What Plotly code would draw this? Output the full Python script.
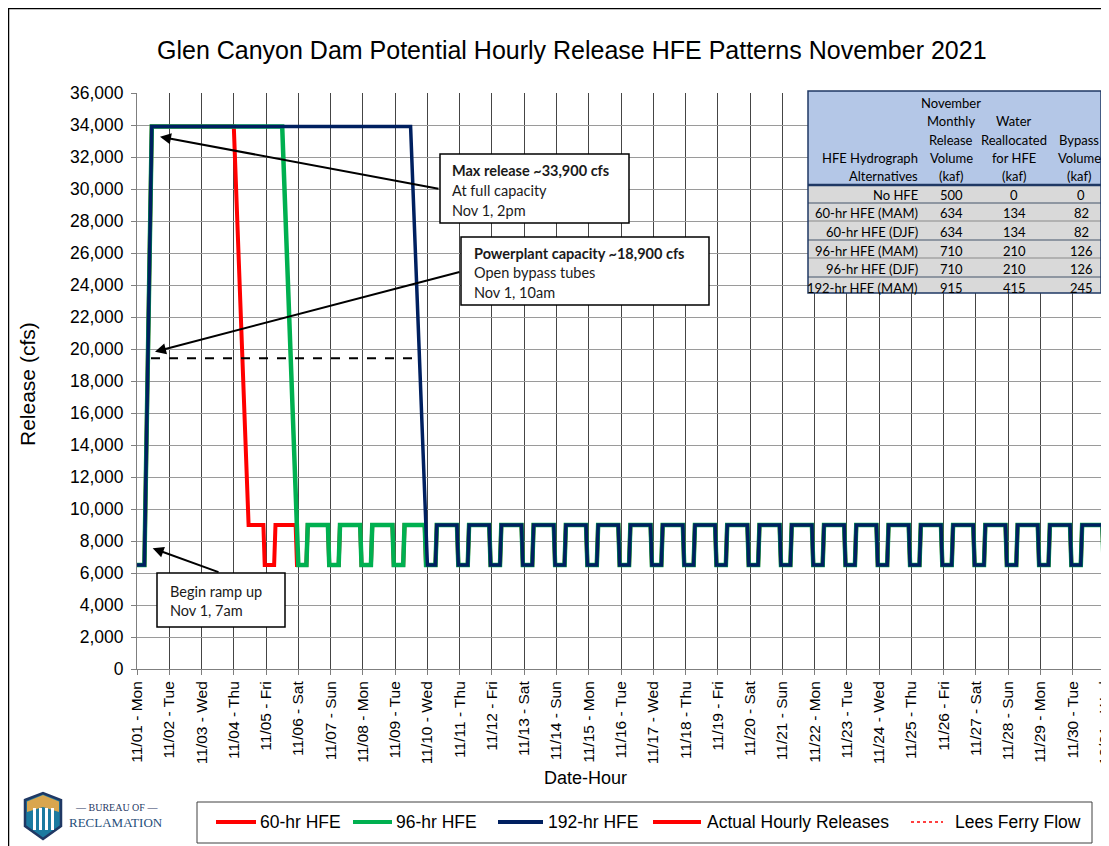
import plotly.graph_objects as go

# ---------------- data ----------------
DAY_LABELS = ["11/01 - Mon", "11/02 - Tue", "11/03 - Wed", "11/04 - Thu", "11/05 - Fri",
              "11/06 - Sat", "11/07 - Sun", "11/08 - Mon", "11/09 - Tue", "11/10 - Wed",
              "11/11 - Thu", "11/12 - Fri", "11/13 - Sat", "11/14 - Sun", "11/15 - Mon",
              "11/16 - Tue", "11/17 - Wed", "11/18 - Thu", "11/19 - Fri", "11/20 - Sat",
              "11/21 - Sun", "11/22 - Mon", "11/23 - Tue", "11/24 - Wed", "11/25 - Thu",
              "11/26 - Fri", "11/27 - Sat", "11/28 - Sun", "11/29 - Mon", "11/30 - Tue",
              "12/01 - Wed"]
DAY_TICK_HOURS = [0, 24, 48, 72, 96, 120, 144, 168, 192, 216, 240, 264, 288, 312, 336,
                  360, 384, 408, 432, 456, 480, 504, 528, 552, 576, 600, 624, 648, 672,
                  696, 720]

# normal daily fluctuation (hour of day, cfs) repeated after each HFE
DAY_HOURS = [6, 7, 22, 23]
DAY_CFS = [6500, 9000, 9000, 6500]
END_HOUR = 720
END_CFS = 6500

# HFE parts (hours since Nov 1 00:00, cfs)
HFE60_HOURS = [0, 5.5, 11, 72, 83, 94, 95]
HFE60_CFS = [6500, 6500, 33900, 33900, 9000, 9000, 6500]
HFE60_NORMAL_FROM_DAY = 4

HFE96_HOURS = [0, 5.5, 11, 108, 120]
HFE96_CFS = [6500, 6500, 33900, 33900, 6500]
HFE96_NORMAL_FROM_DAY = 5

HFE192_HOURS = [0, 5.5, 11, 203.5, 216]
HFE192_CFS = [6500, 6500, 33900, 33900, 6500]
HFE192_NORMAL_FROM_DAY = 9

Y_TICKS = list(range(0, 36001, 2000))

LEGEND_NAMES = ["60-hr HFE", "96-hr HFE", "192-hr HFE", "Actual Hourly Releases", "Lees Ferry Flow"]

TABLE_HEADER_C1 = ["", "", "", "HFE Hydrograph", "Alternatives"]
TABLE_HEADER_C2 = ["November", "Monthly", "Release", "Volume", "(kaf)"]
TABLE_HEADER_C3 = ["", "Water", "Reallocated", "for HFE", "(kaf)"]
TABLE_HEADER_C4 = ["", "", "Bypass", "Volume", "(kaf)"]
TABLE_ALTS = ["No HFE", "60-hr HFE (MAM)", "60-hr HFE (DJF)", "96-hr HFE (MAM)",
              "96-hr HFE (DJF)", "192-hr HFE (MAM)"]
TABLE_VOLUME = [500, 634, 634, 710, 710, 915]
TABLE_REALLOC = [0, 134, 134, 210, 210, 415]
TABLE_BYPASS = [0, 82, 82, 126, 126, 245]


def build(hfe_h, hfe_v, start_day):
    xs, ys = list(hfe_h), list(hfe_v)
    for d in range(start_day, 30):
        for h, v in zip(DAY_HOURS, DAY_CFS):
            xs.append(d * 24 + h)
            ys.append(v)
    xs.append(END_HOUR)
    ys.append(END_CFS)
    return xs, ys


# ---------------- layout helpers (screen pixel -> paper) ----------------
OFF = 8                     # page body margin of the html page
W, H = 1109 - OFF, 846 - OFF
PL, PR, PT, PB = 137, 1105, 93, 669   # plot area in screen pixels


def px(x):
    return (x - PL) / (PR - PL)


def py(y):
    return (PB - y) / (PB - PT)


RED = "#ff0000"
GREEN = "#00b050"
NAVY = "#002060"
AX_FONT = "Liberation Sans, Arial, sans-serif"
BOX_FONT = "Lato, Carlito, Calibri, sans-serif"

fig = go.Figure()

x60, y60 = build(HFE60_HOURS, HFE60_CFS, HFE60_NORMAL_FROM_DAY)
x96, y96 = build(HFE96_HOURS, HFE96_CFS, HFE96_NORMAL_FROM_DAY)
x192, y192 = build(HFE192_HOURS, HFE192_CFS, HFE192_NORMAL_FROM_DAY)

fig.add_trace(go.Scatter(x=x60, y=y60, mode="lines", name=LEGEND_NAMES[0],
                         line=dict(color=RED, width=4)))
fig.add_trace(go.Scatter(x=x96, y=y96, mode="lines", name=LEGEND_NAMES[1],
                         line=dict(color=GREEN, width=4.5)))
fig.add_trace(go.Scatter(x=x192, y=y192, mode="lines", name=LEGEND_NAMES[2],
                         line=dict(color=NAVY, width=3.5)))

shapes = []
annotations = []

# outer chart frame
shapes.append(dict(type="rect", xref="paper", yref="paper", x0=px(8.5), x1=px(1130),
                   y0=py(8.5), y1=py(880), line=dict(color="black", width=1.5),
                   fillcolor="rgba(0,0,0,0)", layer="below"))

# title
annotations.append(dict(text="Glen Canyon Dam Potential Hourly Release HFE Patterns November 2021",
                        xref="paper", yref="paper", x=px(571.5), y=py(50), showarrow=False,
                        xanchor="center", yanchor="middle",
                        font=dict(family=AX_FONT, size=25, color="black")))
# axis titles
annotations.append(dict(text="Release (cfs)", xref="paper", yref="paper", x=px(28), y=py(384),
                        showarrow=False, textangle=-90, xanchor="center", yanchor="middle",
                        font=dict(family=AX_FONT, size=21, color="black")))
annotations.append(dict(text="Date-Hour", xref="paper", yref="paper", x=px(585), y=py(778),
                        showarrow=False, xanchor="center", yanchor="middle",
                        font=dict(family=AX_FONT, size=18, color="black")))

# dashed powerplant capacity line (drawn shape)
shapes.append(dict(type="line", xref="paper", yref="paper", x0=px(151), x1=px(414),
                   y0=py(358.3), y1=py(358.3), line=dict(color="black", width=2, dash="dash"),
                   layer="above"))


def box(x0, y0, x1, y1, lines, tx, ty0, dy, fs):
    shapes.append(dict(type="rect", xref="paper", yref="paper", x0=px(x0), x1=px(x1),
                       y0=py(y1), y1=py(y0), line=dict(color="black", width=1.5),
                       fillcolor="white", layer="above"))
    for i, t in enumerate(lines):
        annotations.append(dict(text=t, xref="paper", yref="paper", x=px(tx), y=py(ty0 + i * dy),
                                showarrow=False, xanchor="left", yanchor="middle",
                                font=dict(family=BOX_FONT, size=fs, color="#1a1a1a")))


def arrow(hx, hy, tx, ty):
    annotations.append(dict(text="", xref="paper", yref="paper", x=px(hx), y=py(hy),
                            ax=tx - hx, ay=ty - hy, showarrow=True, arrowhead=2,
                            arrowsize=1.1, arrowwidth=2, arrowcolor="black",
                            standoff=0, startstandoff=0))


box(440, 154, 629, 223, ["<b>Max release ~33,900 cfs</b>", "At full capacity", "Nov 1, 2pm"],
    450, 171, 19.5, 14.5)
box(461, 237, 709, 305, ["<b>Powerplant capacity ~18,900 cfs</b>", "Open bypass tubes", "Nov 1, 10am"],
    472, 253, 19.5, 14.5)
box(157, 573, 285, 627, ["Begin ramp up", "Nov 1, 7am"], 168, 591, 19.5, 14.5)

arrow(160, 136.7, 440, 189)
arrow(155, 351.7, 461, 271.7)
arrow(152.7, 548.3, 220, 572.7)

# ---------------- table ----------------
TX0, TX1 = 808, 1101
shapes.append(dict(type="rect", xref="paper", yref="paper", x0=px(TX0), x1=px(TX1),
                   y0=py(185), y1=py(91), line=dict(width=0), fillcolor="#b4c7e7", layer="above"))
shapes.append(dict(type="rect", xref="paper", yref="paper", x0=px(TX0), x1=px(TX1),
                   y0=py(293), y1=py(185), line=dict(width=0), fillcolor="#d9d9d9", layer="above"))
ROW_LINES = [203, 221, 240, 258, 277]
ROW_LINE_COL = ["#44546a", "#8a8a8a", "#44546a", "#8a8a8a", "#44546a"]
for yl, c in zip(ROW_LINES, ROW_LINE_COL):
    shapes.append(dict(type="line", xref="paper", yref="paper", x0=px(TX0), x1=px(TX1),
                       y0=py(yl), y1=py(yl), line=dict(color=c, width=1.2), layer="above"))
shapes.append(dict(type="line", xref="paper", yref="paper", x0=px(TX0), x1=px(TX1),
                   y0=py(185), y1=py(185), line=dict(color="#1f3864", width=2.5), layer="above"))
shapes.append(dict(type="rect", xref="paper", yref="paper", x0=px(TX0), x1=px(TX1),
                   y0=py(293), y1=py(91), line=dict(color="#1f3864", width=1.5),
                   fillcolor="rgba(0,0,0,0)", layer="above"))

HDR_Y = [103, 121.3, 139.7, 158, 176.3]
ROW_Y = [195.5, 213.5, 232, 250.5, 269, 287.5]
TFS = 13


def tcell(t, x, y, anchor):
    if t == "":
        return
    annotations.append(dict(text=str(t), xref="paper", yref="paper", x=px(x), y=py(y),
                            showarrow=False, xanchor=anchor, yanchor="middle",
                            font=dict(family=BOX_FONT, size=TFS, color="black")))


for i, yy in enumerate(HDR_Y):
    tcell(TABLE_HEADER_C1[i], 920, yy, "right")
    tcell(TABLE_HEADER_C2[i], 951, yy, "center")
    tcell(TABLE_HEADER_C3[i], 1014, yy, "center")
    tcell(TABLE_HEADER_C4[i], 1079, yy, "center")
for i, yy in enumerate(ROW_Y):
    tcell(TABLE_ALTS[i], 920, yy, "right")
    tcell(TABLE_VOLUME[i], 951, yy, "center")
    tcell(TABLE_REALLOC[i], 1014, yy, "center")
    tcell(TABLE_BYPASS[i], 1081, yy, "center")

# ---------------- legend (drawn) ----------------
shapes.append(dict(type="rect", xref="paper", yref="paper", x0=px(197), x1=px(1092),
                   y0=py(843), y1=py(802), line=dict(color="#404040", width=1),
                   fillcolor="white", layer="below"))
LEG_LINE_X = [(216, 256), (353, 392), (498, 543), (653, 701), (911, 943)]
LEG_TEXT_X = [258, 394, 546, 705, 953]
LEG_STYLE = [dict(color=RED, width=4), dict(color=GREEN, width=4), dict(color=NAVY, width=4),
             dict(color=RED, width=4), dict(color=RED, width=1.5, dash="dot")]
LEG_Y = 822
for (lx0, lx1), tx, st, name in zip(LEG_LINE_X, LEG_TEXT_X, LEG_STYLE, LEGEND_NAMES):
    shapes.append(dict(type="line", xref="paper", yref="paper", x0=px(lx0), x1=px(lx1),
                       y0=py(LEG_Y), y1=py(LEG_Y), line=st, layer="above"))
    annotations.append(dict(text=name, xref="paper", yref="paper", x=px(tx), y=py(LEG_Y),
                            showarrow=False, xanchor="left", yanchor="middle",
                            font=dict(family=AX_FONT, size=17.5, color="black")))

# ---------------- logo ----------------
shield = "M {} {} L {} {} L {} {} L {} {} L {} {} L {} {} Z".format(
    px(25), py(800), px(43), py(793), px(61), py(800), px(61), py(826), px(43), py(839), px(25), py(826))
shapes.append(dict(type="path", xref="paper", yref="paper", path=shield,
                   fillcolor="#1b7aa0", line=dict(color="#1f3864", width=2.5), layer="above"))
gold = "M {} {} L {} {} L {} {} L {} {} L {} {} L {} {} Z".format(
    px(27), py(801.5), px(43), py(795), px(59), py(801.5), px(59), py(812), px(43), py(807), px(27), py(812))
shapes.append(dict(type="path", xref="paper", yref="paper", path=gold,
                   fillcolor="#d9a64e", line=dict(width=0), layer="above"))
for bx in [33, 39, 45, 51]:
    shapes.append(dict(type="rect", xref="paper", yref="paper", x0=px(bx), x1=px(bx + 3),
                       y0=py(830), y1=py(808), fillcolor="white", line=dict(width=0), layer="above"))
annotations.append(dict(text="— BUREAU OF —", xref="paper", yref="paper", x=px(116), y=py(807),
                        showarrow=False, xanchor="center", yanchor="middle",
                        font=dict(family="Liberation Serif, serif", size=10, color="#1f3864")))
annotations.append(dict(text="RECLAMATION", xref="paper", yref="paper", x=px(116), y=py(822),
                        showarrow=False, xanchor="center", yanchor="middle",
                        font=dict(family="Liberation Serif, serif", size=13, color="#1f4e79")))

fig.update_layout(
    width=W, height=H,
    margin=dict(l=PL - OFF, r=W + OFF - PR, t=PT - OFF, b=H + OFF - PB, pad=0),
    paper_bgcolor="white", plot_bgcolor="white",
    showlegend=False,
    shapes=shapes,
    annotations=annotations,
    xaxis=dict(range=[0, 720], tickmode="array", tickvals=DAY_TICK_HOURS, ticktext=DAY_LABELS,
               tickangle=-90, showgrid=True, gridcolor="#454545", gridwidth=1,
               showline=True, linecolor="#7f7f7f", linewidth=1, zeroline=False,
               ticks="outside", ticklen=5, tickcolor="#7f7f7f", ticklabeloverflow="allow",
               automargin=False,
               tickfont=dict(family=AX_FONT, size=15.5, color="black")),
    yaxis=dict(range=[0, 36000], tickmode="array", tickvals=Y_TICKS,
               ticktext=[f"{v:,}" for v in Y_TICKS],
               showgrid=True, gridcolor="#9a9a9a", gridwidth=1,
               showline=True, linecolor="#7f7f7f", linewidth=1, zeroline=False,
               ticks="outside", ticklen=5, tickcolor="#7f7f7f", ticklabelstandoff=4,
               automargin=False,
               tickfont=dict(family=AX_FONT, size=17.5, color="black")),
)

fig.write_html("out.html")
